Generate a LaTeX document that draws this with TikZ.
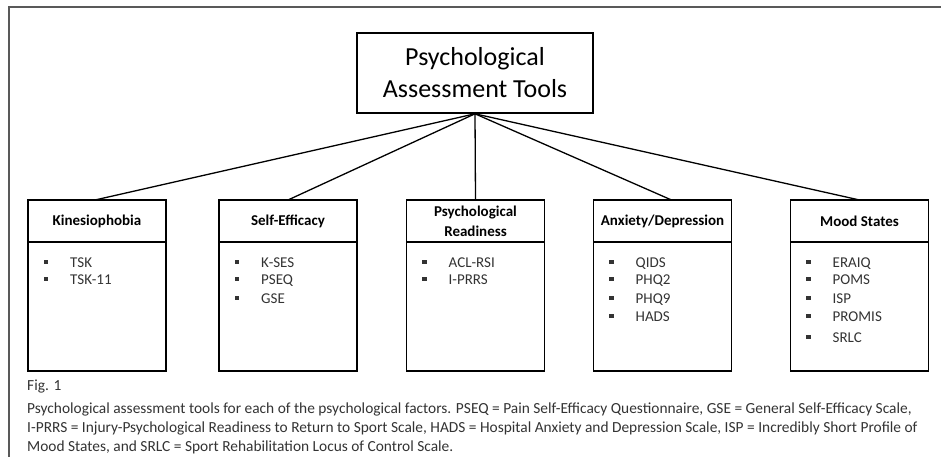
\documentclass[tikz,border=0pt]{standalone}
\usepackage{fontspec}
\setmainfont{Carlito}
\usetikzlibrary{positioning}
\definecolor{ink}{HTML}{333333}
\tikzset{
  hdr/.style={draw,line width=1.6pt,outer sep=0pt,inner sep=0pt,
    minimum width=138pt,minimum height=42pt,align=center,
    font=\fontsize{15}{20}\selectfont\bfseries},
  body/.style={draw,line width=1.6pt,outer sep=0pt,
    minimum width=138pt,minimum height=129pt},
  bul/.style={fill=ink,inner sep=0pt,minimum size=4.5pt},
  tool/.style={anchor=base west,inner sep=0pt,text=ink,
    font=\fontsize{15}{18}\selectfont},
  link/.style={line width=1.3pt},
  captext/.style={anchor=base west,inner sep=0pt,text=ink,
    font=\fontsize{15.4}{19}\selectfont}
}
% #1 name, #2 left edge of the box, #3 list of tools
\newcommand\toollist[3]{%
  \foreach \t [count=\i] in {#3}{%
    \pgfmathsetmacro\ty{{262,279,298,316,337}[\i-1]}
    \node[bul] (#1-b\i) at (#2+18,\ty) {};
    \node[tool] (#1-\i) at (#2+42,\ty+5) {\t};
  }}
\begin{document}
\begin{tikzpicture}[x=1pt,y=-1pt]
\useasboundingbox (0,0) rectangle (941,457);
% frame of the screenshot
\draw[line width=1.8pt,gray!70!black] (9,457) -- (9,7) -- (941,7);

% root
\node[draw,line width=1.6pt,minimum width=236pt,minimum height=80pt,align=center,
  font=\fontsize{26}{32}\selectfont] (root) at (475,73) {Psychological\\Assessment Tools};

% the five factors
\node[hdr] (kin) at (97,221) {Kinesiophobia};
\node[body,below=0pt of kin] (kin-body) {};
\node[hdr] (se) at (288,221) {Self-Efficacy};
\node[body,below=0pt of se] (se-body) {};
\node[hdr] (pr) at (475.5,221) {Psychological\\Readiness};
\node[body,below=0pt of pr] (pr-body) {};
\node[hdr] (ad) at (662.5,221) {Anxiety/Depression};
\node[body,below=0pt of ad] (ad-body) {};
\node[hdr] (ms) at (859.5,221) {Mood States};
\node[body,below=0pt of ms] (ms-body) {};

\toollist{kin}{28}{TSK,TSK-11}
\toollist{se}{219}{K-SES,PSEQ,GSE}
\toollist{pr}{406.5}{ACL-RSI,I-PRRS}
\toollist{ad}{593.5}{QIDS,PHQ2,PHQ9,HADS}
\toollist{ms}{790.5}{ERAIQ,POMS,ISP,PROMIS,SRLC}

\draw[link] (root.south) -- ([xshift=-2pt]kin.north);
\draw[link] (root.south) -- (se.north);
\draw[link] (root.south) -- (pr.north);
\draw[link] (root.south) -- ([xshift=9pt]ad.north);
\draw[link] (root.south) -- (ms.north);

% caption
\node[captext] (fig) at (27,390) {Fig. 1};
\node[captext] (cap1) at (27,413) {Psychological assessment tools for each of the psychological factors. PSEQ = Pain Self-Efficacy Questionnaire, GSE = General Self-Efficacy Scale,};
\node[captext] (cap2) at (27,432) {I-PRRS = Injury-Psychological Readiness to Return to Sport Scale, HADS = Hospital Anxiety and Depression Scale, ISP = Incredibly Short Profile of};
\node[captext] (cap3) at (27,451) {Mood States, and SRLC = Sport Rehabilitation Locus of Control Scale.};
\end{tikzpicture}
\end{document}
